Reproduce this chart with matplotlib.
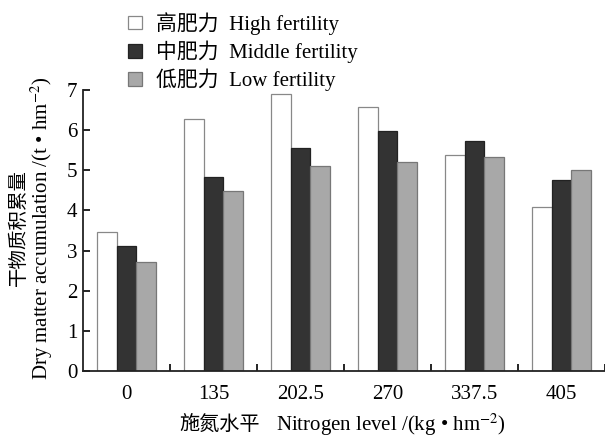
import matplotlib
matplotlib.use('Agg')
import matplotlib.pyplot as plt
import numpy as np

plt.rcParams['font.family'] = ['Liberation Serif', 'Noto Sans CJK SC', 'DejaVu Sans']
plt.rcParams['mathtext.fontset'] = 'stix'

# nitrogen levels (kg/hm2) and dry matter (t/hm2) per soil fertility
n_levels = ['0', '135', '202.5', '270', '337.5', '405']
high = [3.47, 6.27, 6.89, 6.58, 5.37, 4.09]
middle = [3.12, 4.83, 5.56, 5.97, 5.74, 4.75]
low = [2.72, 4.48, 5.11, 5.21, 5.33, 5.01]
labels = ['高肥力  High fertility', '中肥力  Middle fertility', '低肥力  Low fertility']

fig = plt.figure(figsize=(6.05, 4.38), dpi=100)
ax = fig.add_axes([83/605, 1-371/438, 522/605, 281/438])

x = np.arange(len(n_levels))
w = 0.225
b1 = ax.bar(x - w, high, w, color='white', edgecolor='#888888', linewidth=0.9)
b2 = ax.bar(x, middle, w, color='#333333', edgecolor='#222222', linewidth=0.9)
b3 = ax.bar(x + w, low, w, color='#a8a8a8', edgecolor='#777777', linewidth=0.9)

ax.set_xlim(-0.5, 5.5)
ax.set_ylim(0, 7)
ax.spines['top'].set_visible(False)
ax.spines['right'].set_visible(False)
for s in ['left', 'bottom']:
    ax.spines[s].set_linewidth(1.3)
    ax.spines[s].set_color('#222222')

ax.set_xticks(x)
ax.set_xticklabels(n_levels, fontsize=15)
ax.set_xticks(x + 0.5, minor=True)
ax.tick_params(axis='x', which='major', length=0, pad=10)
ax.tick_params(axis='x', which='minor', direction='in', length=5, width=1.2)
ax.set_yticks(range(8))
ax.tick_params(axis='y', direction='in', length=5, width=1.2, labelsize=15, pad=4)

# axis titles: chinese and english parts kept as separate texts
fig.text(19/605, 1-227/438, '干物质积累量', rotation=90, ha='center', va='center', fontsize=14)
fig.text(42/605, 1-228/438, 'Dry matter accumulation /(t • hm$^{-2}$)', rotation=90,
         ha='center', va='center', fontsize=15)
fig.text(179/605, 1-425/438, '施氮水平', ha='left', va='center', fontsize=14.5)
fig.text(276/605, 1-425/438, 'Nitrogen level /(kg • hm$^{-2}$)',
         ha='left', va='center', fontsize=15)

ax.legend([b1, b2, b3], labels, loc='upper left', bbox_to_anchor=(128/605, 1-12/438),
          bbox_transform=fig.transFigure, frameon=False, fontsize=15,
          handlelength=0.65, handleheight=0.65, handletextpad=0.7,
          labelspacing=0.27, borderpad=0, borderaxespad=0)

fig.savefig('out.png', dpi=100)
